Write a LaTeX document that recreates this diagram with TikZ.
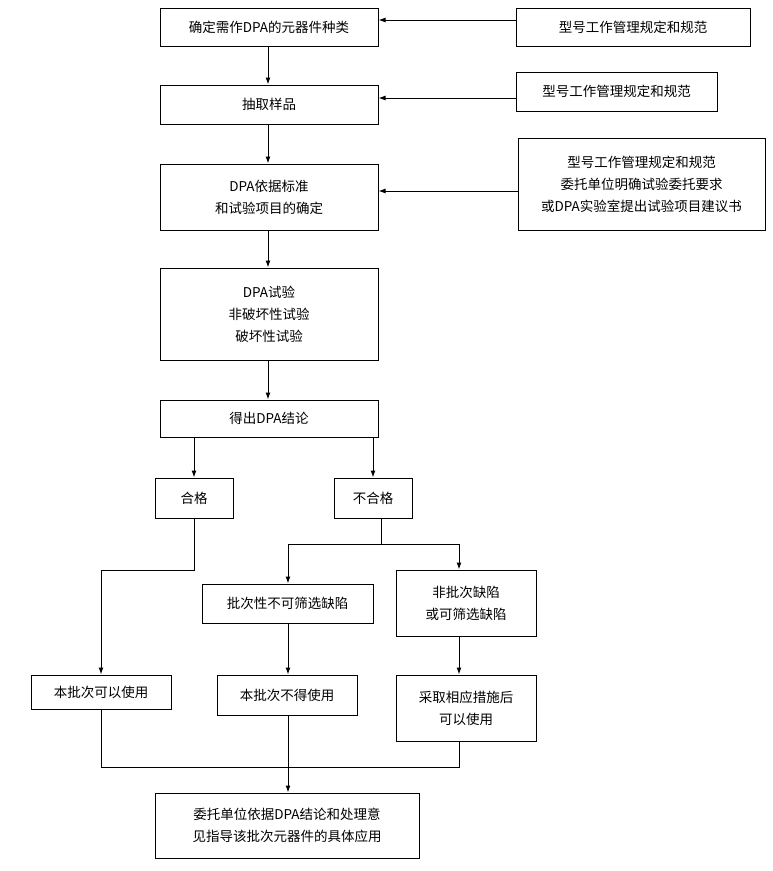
\documentclass[tikz,border=0pt]{standalone}
\usepackage{fontspec}
\setmainfont{Noto Sans CJK SC}
\usetikzlibrary{arrows.meta}
\begin{document}
\begin{tikzpicture}[x=1pt,y=-1pt,
  bx/.style={draw,line width=1pt,inner sep=0pt,align=center,font=\fontsize{13.5}{22}\selectfont},
  arr/.style={line width=1pt,-{Latex[length=7pt,width=5pt]}},
  ln/.style={line width=1pt}]
\useasboundingbox (0,0) rectangle (773,871);
\newcommand\bxn[6]{\node[bx,minimum width={#4-#2},minimum height={#5-#3}] (#1) at ({(#2+#4)/2},{(#3+#5)/2}) {#6};}
\bxn{b1}{160}{8}{378}{46}{确定需作DPA的元器件种类}
\bxn{r1}{516}{8}{750}{46}{型号工作管理规定和规范}
\bxn{b2}{160}{85}{378}{124}{抽取样品}
\bxn{r2}{516}{72}{717}{111}{型号工作管理规定和规范}
\bxn{b3}{160}{164}{378}{230}{DPA依据标准\\和试验项目的确定}
\bxn{r3}{518}{138}{765}{230}{型号工作管理规定和规范\\委托单位明确试验委托要求\\或DPA实验室提出试验项目建议书}
\bxn{b4}{160}{268}{378}{360}{DPA试验\\非破坏性试验\\破坏性试验}
\bxn{b5}{160}{400}{378}{437}{得出DPA结论}
\bxn{ok}{155}{478}{233}{518}{合格}
\bxn{ng}{334}{478}{412}{518}{不合格}
\bxn{p1}{202}{584}{373}{623}{批次性不可筛选缺陷}
\bxn{p2}{396}{570}{536}{636}{非批次缺陷\\或可筛选缺陷}
\bxn{u1}{31}{675}{171}{709}{本批次可以使用}
\bxn{u2}{217}{675}{357}{715}{本批次不得使用}
\bxn{u3}{396}{675}{536}{741}{采取相应措施后\\可以使用}
\bxn{fin}{155}{793}{419}{858}{委托单位依据DPA结论和处理意\\见指导该批次元器件的具体应用}
\coordinate (a1) at (0,20); \coordinate (a2) at (0,98); \coordinate (a3) at (0,191);
\draw[arr] (r1.west|-a1) -- (b1.east|-a1);
\draw[arr] (r2.west|-a2) -- (b2.east|-a2);
\draw[arr] (r3.west|-a3) -- (b3.east|-a3);
\coordinate (cx) at (268,0);
\draw[arr] (b1.south-|cx) -- (b2.north-|cx);
\draw[arr] (b2.south-|cx) -- (b3.north-|cx);
\draw[arr] (b3.south-|cx) -- (b4.north-|cx);
\draw[arr] (b4.south-|cx) -- (b5.north-|cx);
\draw[arr] (b5.south-|ok) -- (ok.north);
\draw[arr] (b5.south-|ng) -- (ng.north);
\coordinate (k1) at (194,570); \coordinate (k2) at (101,570);
\draw[arr] (ok.south) -- (k1) -- (k2) -- (k2|-u1.north);
\coordinate (s) at (381,544); \coordinate (sx1) at (288,544); \coordinate (sx2) at (459,544);
\draw[ln] (ng.south-|s) -- (s);
\draw[arr] (s) -- (sx1) -- (sx1|-p1.north);
\draw[arr] (s) -- (sx2) -- (sx2|-p2.north);
\draw[arr] (p1.south-|sx1) -- (u2.north-|sx1);
\draw[arr] (p2.south-|sx2) -- (u3.north-|sx2);
\coordinate (m1) at (101,767); \coordinate (m3) at (459,767);
\draw[ln] (u1.south-|m1) -- (m1) -- (m3) -- (u3.south-|m3);
\draw[arr] (u2.south-|sx1) -- (fin.north-|sx1);
\end{tikzpicture}
\end{document}
